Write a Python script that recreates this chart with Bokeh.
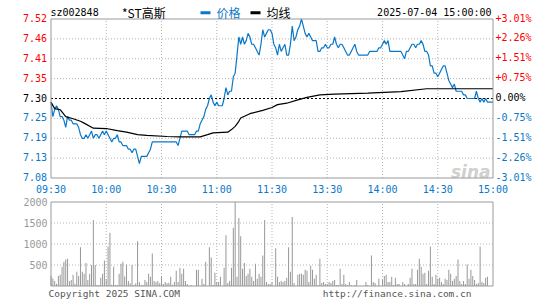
from bokeh.plotting import figure
from bokeh.models import Range1d
from bokeh.core.properties import value
from bokeh.embed import file_html
from bokeh.resources import INLINE

# ---------------- data ----------------
stock_code = "sz002848"
stock_name = "*ST高斯"
timestamp = "2025-07-04 15:00:00"
legend_price = "价格"
legend_avg = "均线"
copyright_text = "Copyright 2025 SINA.COM"
url_text = "http://finance.sina.com.cn"

prev_close = 7.30
max_pct = 3.01
price_labels = ["7.52", "7.46", "7.41", "7.35", "7.30", "7.25", "7.19", "7.13", "7.08"]
pct_labels = ["+3.01%", "+2.26%", "+1.51%", "+0.75%", "0.00%", "-0.75%", "-1.51%", "-2.26%", "-3.01%"]
time_ticks = [0, 30, 60, 90, 120, 150, 180, 210, 240]
time_labels = ["09:30", "10:00", "10:30", "11:00", "11:30", "13:30", "14:00", "14:30", "15:00"]
vol_max = 2000
vol_ticks = [500, 1000, 1500, 2000]
vol_labels = ["500", "1000", "1500", "2000"]

price = [
    7.29, 7.25, 7.27, 7.28, 7.27, 7.25, 7.25, 7.24, 7.22, 7.25,
    7.24, 7.24, 7.23, 7.23, 7.23, 7.22, 7.20, 7.19, 7.19, 7.20,
    7.19, 7.20, 7.21, 7.19, 7.20, 7.20, 7.19, 7.20, 7.21, 7.20,
    7.21, 7.20, 7.19, 7.18, 7.19, 7.19, 7.20, 7.18, 7.18, 7.17,
    7.17, 7.17, 7.16, 7.16, 7.15, 7.16, 7.16, 7.14, 7.12, 7.14,
    7.14, 7.14, 7.14, 7.15, 7.16, 7.18, 7.18, 7.18, 7.18, 7.18,
    7.18, 7.18, 7.18, 7.18, 7.18, 7.18, 7.18, 7.18, 7.18, 7.17,
    7.19, 7.21, 7.21, 7.21, 7.21, 7.20, 7.20, 7.20, 7.20, 7.21,
    7.21, 7.23, 7.24, 7.25, 7.27, 7.28, 7.30, 7.31, 7.29, 7.28,
    7.29, 7.28, 7.28, 7.28, 7.30, 7.33, 7.31, 7.32, 7.32, 7.36,
    7.37, 7.42, 7.47, 7.45, 7.47, 7.45, 7.46, 7.48, 7.47, 7.45,
    7.45, 7.44, 7.43, 7.42, 7.45, 7.49, 7.47, 7.48, 7.49, 7.49,
    7.48, 7.45, 7.44, 7.42, 7.45, 7.43, 7.44, 7.45, 7.42, 7.42,
    7.45, 7.50, 7.46, 7.47, 7.49, 7.50, 7.52, 7.50, 7.48, 7.47,
    7.48, 7.47, 7.46, 7.46, 7.46, 7.43, 7.43, 7.44, 7.44, 7.45,
    7.44, 7.44, 7.45, 7.45, 7.47, 7.45, 7.44, 7.45, 7.45, 7.44,
    7.43, 7.42, 7.42, 7.43, 7.44, 7.45, 7.43, 7.42, 7.42, 7.42,
    7.42, 7.42, 7.42, 7.43, 7.43, 7.43, 7.43, 7.43, 7.44, 7.44,
    7.45, 7.46, 7.45, 7.46, 7.43, 7.43, 7.43, 7.43, 7.43, 7.43,
    7.43, 7.42, 7.41, 7.43, 7.43, 7.44, 7.45, 7.45, 7.44, 7.45,
    7.45, 7.46, 7.45, 7.43, 7.43, 7.42, 7.39, 7.39, 7.37, 7.37,
    7.36, 7.37, 7.38, 7.39, 7.39, 7.37, 7.35, 7.34, 7.33, 7.34,
    7.32, 7.32, 7.32, 7.32, 7.31, 7.31, 7.30, 7.30, 7.30, 7.30,
    7.30, 7.32, 7.30, 7.29, 7.30, 7.29, 7.30, 7.29, 7.29, 7.29, 7.29,
]

avg_minute = [0, 2, 5, 8, 12, 16, 18, 23, 30, 36, 41, 47, 52, 63, 70, 81, 85, 88, 96,
              98, 100, 102, 103, 108, 115, 120, 123, 128, 134, 139, 146, 154, 172, 190,
              204, 233, 240]
avg_price = [7.290, 7.272, 7.269, 7.250, 7.244, 7.237, 7.232, 7.218, 7.217, 7.211, 7.207,
             7.200, 7.198, 7.195, 7.194, 7.194, 7.200, 7.205, 7.207, 7.214, 7.223, 7.237,
             7.246, 7.258, 7.267, 7.275, 7.283, 7.287, 7.296, 7.303, 7.310, 7.312, 7.315,
             7.319, 7.327, 7.327, 7.327]

volume = [
    240, 177, 120, 56, 240, 266, 460, 580, 630, 650,
    120, 145, 266, 56, 340, 240, 920, 340, 290, 550,
    145, 290, 500, 1570, 500, 25, 25, 195, 290, 605,
    160, 940, 1270, 30, 460, 25, 25, 290, 530, 580,
    225, 510, 120, 65, 500, 25, 65, 1065, 97, 25,
    25, 145, 97, 290, 218, 775, 120, 97, 120, 65,
    218, 48, 97, 65, 80, 218, 32, 97, 363, 97,
    435, 290, 410, 120, 48, 0, 25, 0, 0, 387,
    387, 0, 170, 48, 580, 0, 920, 677, 25, 315,
    97, 97, 218, 0, 435, 1210, 72, 120, 435, 1386,
    2400, 218, 1620, 1185, 410, 550, 240, 290, 410, 218,
    120, 530, 170, 290, 218, 725, 1570, 97, 48, 48,
    97, 0, 900, 218, 97, 120, 97, 120, 195, 920,
    340, 1645, 72, 0, 266, 290, 290, 266, 387, 363,
    97, 484, 387, 170, 266, 25, 650, 72, 97, 48,
    48, 97, 72, 120, 145, 25, 25, 410, 48, 266,
    48, 25, 97, 25, 0, 25, 145, 0, 0, 0,
    0, 97, 25, 0, 725, 97, 72, 0, 170, 0,
    145, 240, 266, 97, 97, 218, 25, 195, 48, 48,
    0, 97, 48, 0, 48, 195, 410, 48, 48, 387,
    650, 460, 290, 315, 48, 363, 940, 218, 48, 266,
    170, 195, 97, 48, 170, 145, 387, 290, 120, 170,
    240, 630, 120, 48, 120, 48, 510, 170, 387, 240,
    145, 48, 72, 940, 97, 72, 195, 218, 0, 0, 0,
]

minutes = list(range(len(price)))
n_min = len(price) - 1

# ---------------- layout / style ----------------
W, H = 545, 300
X0, X1 = 50.5, 492.5          # px of first / last minute
PY0, PY1 = 18.5, 177.5        # px of price top / bottom
VY0, VY1 = 201.5, 285.5       # px of volume top / zero

BLUE = "#0a78c8"
RED = "#ff0000"
GRAY = "#999999"
GRID = "#b4b4b4"
TXT_GRAY = "#555555"
MONO = "DejaVu Sans Mono"
CJK = "Noto Sans CJK SC"

ylo = prev_close * (1 - max_pct / 100)
yhi = prev_close * (1 + max_pct / 100)
levels = [prev_close * (1 + k * max_pct / 400) for k in range(4, -5, -1)]
level_colors = [RED if lv > prev_close + 1e-9 else (BLUE if lv < prev_close - 1e-9 else "black")
                for lv in levels]

kx = n_min / (X1 - X0)
ky = (yhi - ylo) / (PY1 - PY0)
kv = vol_max / (VY1 - VY0)

p = figure(width=W, height=H,
           x_range=Range1d(-X0 * kx, n_min + (W - X1) * kx),
           y_range=Range1d(ylo - (H - PY1) * ky, yhi + PY0 * ky),
           output_backend="svg", toolbar_location=None,
           x_axis_location=None, y_axis_location=None,
           min_border=0, min_border_left=0, min_border_right=0,
           min_border_top=0, min_border_bottom=0)
p.extra_x_ranges = {"px": Range1d(0, W)}
p.extra_y_ranges = {"px": Range1d(H, 0),
                    "vol": Range1d(-(H - VY1) * kv, vol_max + VY0 * kv)}
p.outline_line_color = None
p.grid.visible = False
p.background_fill_color = "white"
p.border_fill_color = "white"

grid_x = time_ticks[1:-1]
grid_levels = [lv for lv in levels[1:-1] if abs(lv - prev_close) > 1e-9]

# --- price panel ---
p.segment(x0=grid_x, y0=[ylo] * len(grid_x), x1=grid_x, y1=[yhi] * len(grid_x),
          line_color=GRID, line_dash="1 2", line_width=1)
p.segment(x0=[0] * len(grid_levels), y0=grid_levels, x1=[n_min] * len(grid_levels), y1=grid_levels,
          line_color=GRID, line_dash="1 2", line_width=1)
p.segment(x0=[0], y0=[prev_close], x1=[n_min], y1=[prev_close],
          line_color="black", line_dash="2 2", line_width=1)

# watermark
p.text(x=[490], y=[171], text=["sina"], x_range_name="px", y_range_name="px",
       text_align="right", text_baseline="alphabetic", text_font=value("DejaVu Sans"),
       text_font_style="bold italic", text_font_size=value("17px"), text_color="#d0d0d0")

p.line(minutes, price, line_color=BLUE, line_width=1.2)
p.line(avg_minute, avg_price, line_color="black", line_width=1.2)

p.quad(left=[0], right=[n_min], bottom=[ylo], top=[yhi], fill_color=None,
       line_color=GRAY, line_width=1)

# price / percent labels
p.text(x=[X0 - 4] * len(levels), y=levels, text=price_labels, x_range_name="px",
       text_align="right", text_baseline="middle", text_color=level_colors,
       text_font=value(MONO), text_font_size=value("10px"), y_offset=-1)
p.text(x=[X1 + 2.5] * len(levels), y=levels, text=pct_labels, x_range_name="px",
       text_align="left", text_baseline="middle", text_color=level_colors,
       text_font=value(MONO), text_font_size=value("10px"), y_offset=-1)

# time labels
p.text(x=time_ticks, y=[188.5] * len(time_ticks), text=time_labels, y_range_name="px",
       text_align="center", text_baseline="middle", text_color=BLUE,
       text_font=value(MONO), text_font_size=value("10px"))

# header
p.text(x=[X0 - 0.5], y=[11.7], text=[stock_code], x_range_name="px", y_range_name="px",
       text_align="left", text_baseline="middle", text_color="black",
       text_font=value(MONO), text_font_size=value("10px"))
p.text(x=[121.5], y=[11.7], text=[stock_name], x_range_name="px", y_range_name="px",
       text_align="left", text_baseline="middle", text_color="black",
       text_font=value(CJK), text_font_size=value("12px"))
p.segment(x0=[200], y0=[12.3], x1=[210], y1=[12.3], x_range_name="px", y_range_name="px",
          line_color=BLUE, line_width=3)
p.text(x=[216], y=[11.7], text=[legend_price], x_range_name="px", y_range_name="px",
       text_align="left", text_baseline="middle", text_color=BLUE,
       text_font=value(CJK), text_font_size=value("12px"))
p.segment(x0=[250], y0=[12.3], x1=[260], y1=[12.3], x_range_name="px", y_range_name="px",
          line_color="black", line_width=3)
p.text(x=[266], y=[11.7], text=[legend_avg], x_range_name="px", y_range_name="px",
       text_align="left", text_baseline="middle", text_color="black",
       text_font=value(CJK), text_font_size=value("12px"))
p.text(x=[X1 - 1.5], y=[11.7], text=[timestamp], x_range_name="px", y_range_name="px",
       text_align="right", text_baseline="middle", text_color="black",
       text_font=value(MONO), text_font_size=value("10px"))

# --- volume panel ---
vgrid = vol_ticks[:-1]
p.segment(x0=grid_x, y0=[0] * len(grid_x), x1=grid_x, y1=[vol_max] * len(grid_x),
          y_range_name="vol", line_color=GRID, line_dash="1 2", line_width=1)
p.segment(x0=[0] * len(vgrid), y0=vgrid, x1=[n_min] * len(vgrid), y1=vgrid,
          y_range_name="vol", line_color=GRID, line_dash="1 2", line_width=1)
vol_shown = [min(vv, vol_max) for vv in volume]
p.vbar(x=minutes, top=vol_shown, bottom=0, width=0.55, y_range_name="vol",
       fill_color=GRAY, line_color=None)
p.quad(left=[0], right=[n_min], bottom=[0], top=[vol_max], y_range_name="vol",
       fill_color=None, line_color=GRAY, line_width=1)
p.text(x=[X0 - 3.5] * len(vol_ticks), y=vol_ticks, text=vol_labels, x_range_name="px",
       y_range_name="vol", text_align="right", text_baseline="middle", text_color=GRAY,
       text_font=value(MONO), text_font_size=value("10px"))

# footer
p.text(x=[48], y=[292.5], text=[copyright_text], x_range_name="px", y_range_name="px",
       text_align="left", text_baseline="middle", text_color=TXT_GRAY,
       text_font=value(MONO), text_font_size=value("9.5px"))
p.text(x=[471], y=[292.5], text=[url_text], x_range_name="px", y_range_name="px",
       text_align="right", text_baseline="middle", text_color=TXT_GRAY,
       text_font=value(MONO), text_font_size=value("9.5px"))

open("out.html", "w").write(file_html(p, INLINE))
